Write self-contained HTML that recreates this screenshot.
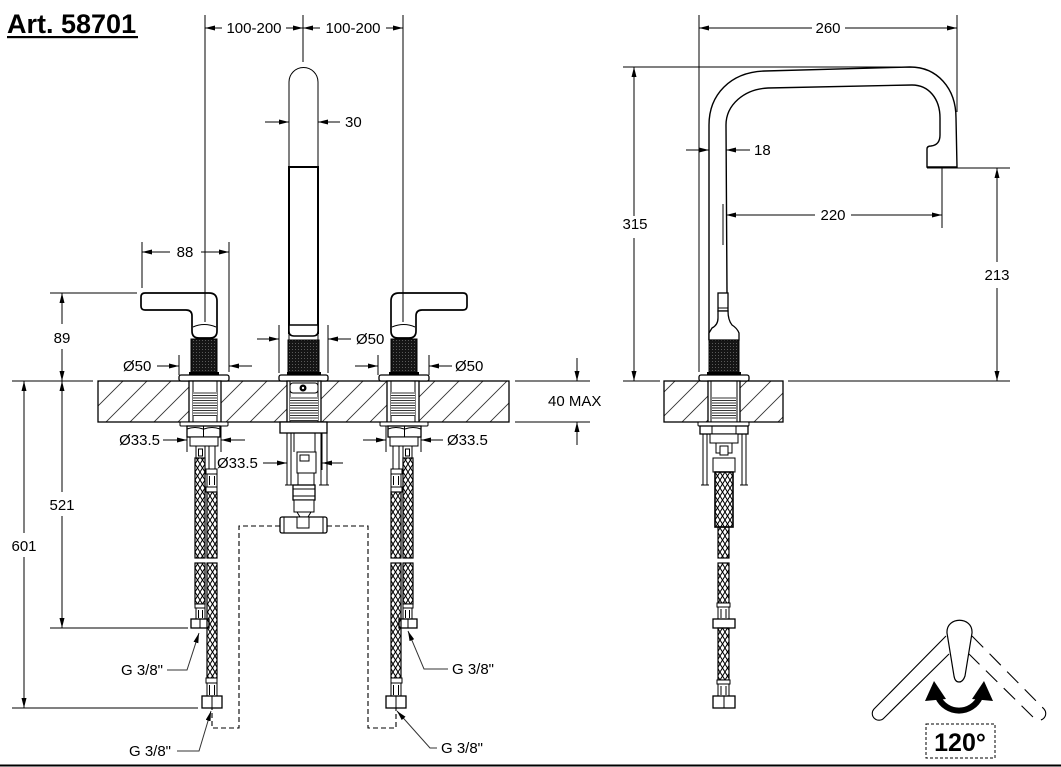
<!DOCTYPE html>
<html><head><meta charset="utf-8"><style>
html,body{margin:0;padding:0;background:#fff;}
svg{display:block;}
text{font-family:"Liberation Sans",Arial,sans-serif;font-size:15px;fill:#000;}
text.big{font-size:27px;font-weight:bold;}
text.deg{font-size:25px;font-weight:bold;}
.d{stroke:#000;stroke-width:1;fill:none;}
.o{stroke:#000;stroke-width:1.3;fill:#fff;}
.t{stroke:#000;stroke-width:1;fill:#fff;}
.l{stroke:#333;stroke-width:1;fill:none;}
</style></head><body>
<svg width="1061" height="767" viewBox="0 0 1061 767" xmlns="http://www.w3.org/2000/svg">
<defs>
<marker id="a" markerWidth="10" markerHeight="6" refX="10" refY="2.5" orient="auto" markerUnits="userSpaceOnUse"><path d="M0,0 L10,2.5 L0,5z" fill="#000"/></marker>
<pattern id="hatch" patternUnits="userSpaceOnUse" width="24" height="24"><path d="M0,24 L24,0 M-6,6 L6,-6 M18,30 L30,18" stroke="#333" stroke-width="0.9"/></pattern>
<pattern id="braid" patternUnits="userSpaceOnUse" width="5" height="8"><path d="M0,0 L5,8 M5,0 L0,8" stroke="#000" stroke-width="1"/></pattern>
<pattern id="knurl" patternUnits="userSpaceOnUse" width="3" height="3"><rect width="3" height="3" fill="#151515"/><rect x="1" y="1" width="1" height="1" fill="#5a5a5a"/></pattern>
<pattern id="thr" patternUnits="userSpaceOnUse" width="4" height="2.5"><rect width="4" height="2.5" fill="#fff"/><line x1="0" y1="0.5" x2="4" y2="0.5" stroke="#000" stroke-width="0.8"/></pattern>

<g id="hL">
  <path d="M141,297 Q141,293 145,293 L209,293 Q217,293 217,301 L217,331 Q217,338 210,338 L199,338 Q192,338 192,331 L192,316 Q192,310 186,310 L145,310 Q141,310 141,306 Z" fill="#fff" stroke="#000" stroke-width="1.7"/>
  <path d="M193,327 Q204,322 216,327" fill="none" stroke="#000" stroke-width="1"/>
  <rect x="191" y="339" width="26" height="34" fill="url(#knurl)" stroke="#000" stroke-width="1"/>
  <rect x="189" y="372" width="30" height="3" fill="#000"/>
  <rect x="179" y="375" width="50" height="6" rx="2" class="o"/>
  <rect x="189" y="381" width="32" height="41" class="o"/>
  <line x1="193" y1="381" x2="193" y2="422" class="d"/>
  <line x1="217" y1="381" x2="217" y2="422" class="d"/>
  <rect x="193" y="392" width="24" height="24" fill="url(#thr)"/>
  <rect x="180" y="422" width="48" height="4" rx="1" class="t"/>
  <rect x="187" y="426" width="33" height="11" class="o"/>
  <line x1="203.5" y1="426" x2="203.5" y2="437" class="d"/>
  <path d="M187,429 Q195,426 203,429 M204,429 Q212,426 220,429" class="d"/>
  <rect x="190" y="437" width="28" height="9" class="t"/>
  <!-- hose A short -->
  <rect x="196" y="446" width="9" height="12" class="t"/>
  <rect x="198.5" y="449" width="4" height="7" class="t"/>
  <rect x="195" y="458" width="10" height="100" fill="url(#braid)" stroke="#000" stroke-width="1.2"/>
  <rect x="195" y="563" width="10" height="41" fill="url(#braid)" stroke="#000" stroke-width="1.2"/>
  <rect x="195" y="604" width="10" height="4" class="t"/>
  <rect x="196" y="608" width="9" height="11" class="t"/>
  <path d="M198.5,610 V618 M202.5,610 V618" class="d"/>
  <rect x="191" y="619" width="18" height="9" class="o"/>
  <line x1="200" y1="619" x2="200" y2="628" class="d"/>
  <!-- hose B long -->
  <path d="M209,446 V469 M215,446 V469" class="d"/>
  <rect x="206" y="469" width="11" height="5" class="t"/>
  <rect x="207" y="474" width="10" height="13" class="t"/>
  <path d="M209.5,476 V485 M214.5,476 V485" class="d"/>
  <rect x="206" y="487" width="11" height="5" class="t"/>
  <rect x="207" y="492" width="10" height="66" fill="url(#braid)" stroke="#000" stroke-width="1.2"/>
  <rect x="207" y="563" width="10" height="115" fill="url(#braid)" stroke="#000" stroke-width="1.2"/>
  <rect x="206" y="678" width="11" height="5" class="t"/>
  <rect x="207" y="683" width="10" height="13" class="t"/>
  <path d="M209.5,685 V695 M214.5,685 V695" class="d"/>
  <rect x="202" y="696" width="20" height="12" class="o"/>
  <line x1="212" y1="696" x2="212" y2="708" class="d"/>
  <line x1="205" y1="15" x2="205" y2="322" class="d"/>
</g>
</defs>

<!-- Title -->
<text x="7" y="33" class="big">Art. 58701</text>
<rect x="7" y="36" width="131" height="2.2" fill="#000"/>

<!-- Counter left view -->
<rect x="98" y="381" width="411" height="41" fill="url(#hatch)" stroke="#000" stroke-width="1.3"/>
<!-- Counter right view -->
<rect x="664" y="381" width="119" height="41" fill="url(#hatch)" stroke="#000" stroke-width="1.3"/>

<!-- Top dimensions -->
<line x1="303" y1="15" x2="303" y2="62" class="d"/>
<line x1="403" y1="15" x2="403" y2="40" class="d"/>
<line x1="222" y1="28" x2="205" y2="28" class="d" marker-end="url(#a)"/>
<line x1="286" y1="28" x2="303" y2="28" class="d" marker-end="url(#a)"/>
<line x1="320" y1="28" x2="303" y2="28" class="d" marker-end="url(#a)"/>
<line x1="386" y1="28" x2="403" y2="28" class="d" marker-end="url(#a)"/>
<text x="254" y="33" text-anchor="middle">100-200</text>
<text x="353" y="33" text-anchor="middle">100-200</text>

<!-- Handles -->
<use href="#hL"/>
<use href="#hL" transform="matrix(-1,0,0,1,608,0)"/>

<!-- Spout front -->
<path d="M289,167 L289,82 A14.5,14.5 0 0 1 318,82 L318,167" fill="#fff" stroke="#000" stroke-width="1"/>
<rect x="289" y="167" width="29" height="166" fill="#fff" stroke="#000" stroke-width="2"/>
<path d="M289,325 L318,325 L318,331 Q318,336 313,336 L294,336 Q289,336 289,331 Z" fill="#fff" stroke="#000" stroke-width="1.5"/>
<path d="M289,333 V340 M318,333 V340" class="d"/>
<rect x="288" y="340" width="31" height="33" fill="url(#knurl)" stroke="#000" stroke-width="1"/>
<rect x="287" y="372" width="34" height="3" fill="#000"/>
<rect x="279" y="375" width="49" height="6" rx="2" class="o"/>
<rect x="287" y="381" width="34" height="41" class="o"/>
<path d="M290,381 V422 M318,381 V422" class="d"/>
<rect x="290" y="383" width="28" height="10" rx="3" class="t"/>
<circle cx="303" cy="388" r="3.5" fill="#000"/>
<circle cx="303" cy="388" r="1.2" fill="#fff"/>
<rect x="290" y="397" width="28" height="24" fill="url(#thr)"/>
<rect x="280" y="422" width="47" height="11" class="o"/>
<path d="M287,433 V485 M291,433 V485 M321,433 V485 M327,433 V485 M285,485 H293 M319,485 H329" class="d"/>
<path d="M294,433 V452 M315,433 V452" class="d"/>
<rect x="297" y="452" width="19" height="21" class="t"/>
<rect x="300" y="455" width="9" height="6" class="t"/>
<rect x="298" y="473" width="16" height="12" class="t"/>
<rect x="293" y="485" width="22" height="15" class="o"/>
<path d="M293,489 H315 M293,496 H315" class="d"/>
<rect x="294" y="500" width="20" height="12" class="t"/>
<path d="M297,512 L300,517 M311,512 L308,517" class="d"/>
<rect x="280" y="517" width="47" height="16" rx="2" class="o"/>
<path d="M284,517 V533 M323,517 V533" class="d"/>
<rect x="297" y="517" width="12" height="11" class="t"/>

<!-- dashed connections -->
<path d="M280,526 H239 V728 H212 V708" fill="none" stroke="#000" stroke-width="1.1" stroke-dasharray="5,3"/>
<path d="M327,526 H368 V728 H396 V708" fill="none" stroke="#000" stroke-width="1.1" stroke-dasharray="5,3"/>

<!-- 30 -->
<line x1="265" y1="122" x2="289" y2="122" class="d" marker-end="url(#a)"/>
<line x1="340" y1="122" x2="318" y2="122" class="d" marker-end="url(#a)"/>
<text x="345" y="127">30</text>

<!-- 88 -->
<line x1="142" y1="242" x2="142" y2="288" class="d"/>
<line x1="229" y1="242" x2="229" y2="372" class="d"/>
<line x1="170" y1="252" x2="142" y2="252" class="d" marker-end="url(#a)"/>
<line x1="201" y1="252" x2="229" y2="252" class="d" marker-end="url(#a)"/>
<text x="185" y="257" text-anchor="middle">88</text>

<!-- 89 / 521 / 601 -->
<line x1="50" y1="293" x2="137" y2="293" class="d"/>
<line x1="12" y1="381" x2="93" y2="381" class="d"/>
<line x1="62" y1="324" x2="62" y2="293" class="d" marker-end="url(#a)"/>
<line x1="62" y1="349" x2="62" y2="381" class="d" marker-end="url(#a)"/>
<text x="62" y="343" text-anchor="middle">89</text>
<line x1="62" y1="492" x2="62" y2="381" class="d" marker-end="url(#a)"/>
<line x1="62" y1="516" x2="62" y2="628" class="d" marker-end="url(#a)"/>
<text x="62" y="510" text-anchor="middle">521</text>
<line x1="50" y1="628" x2="188" y2="628" class="d"/>
<line x1="24" y1="533" x2="24" y2="381" class="d" marker-end="url(#a)"/>
<line x1="24" y1="557" x2="24" y2="708" class="d" marker-end="url(#a)"/>
<text x="24" y="551" text-anchor="middle">601</text>
<line x1="12" y1="708" x2="198" y2="708" class="d"/>

<!-- Ø50 labels -->
<line x1="179" y1="355" x2="179" y2="375" class="d"/>
<line x1="157" y1="366" x2="179" y2="366" class="d" marker-end="url(#a)"/>
<line x1="252" y1="366" x2="229" y2="366" class="d" marker-end="url(#a)"/>
<text x="123" y="371">Ø50</text>
<line x1="279" y1="325" x2="279" y2="373" class="d"/>
<line x1="328" y1="325" x2="328" y2="373" class="d"/>
<line x1="257" y1="339" x2="279" y2="339" class="d" marker-end="url(#a)"/>
<line x1="351" y1="339" x2="328" y2="339" class="d" marker-end="url(#a)"/>
<text x="356" y="344">Ø50</text>
<line x1="378" y1="355" x2="378" y2="375" class="d"/>
<line x1="429" y1="355" x2="429" y2="375" class="d"/>
<line x1="355" y1="366" x2="378" y2="366" class="d" marker-end="url(#a)"/>
<line x1="452" y1="366" x2="429" y2="366" class="d" marker-end="url(#a)"/>
<text x="455" y="371">Ø50</text>

<!-- Ø33.5 labels -->
<line x1="187" y1="426" x2="187" y2="452" class="d"/>
<line x1="221" y1="426" x2="221" y2="452" class="d"/>
<line x1="163" y1="440" x2="187" y2="440" class="d" marker-end="url(#a)"/>
<line x1="245" y1="440" x2="221" y2="440" class="d" marker-end="url(#a)"/>
<text x="160" y="445" text-anchor="end">Ø33.5</text>
<line x1="263" y1="463" x2="287" y2="463" class="d" marker-end="url(#a)"/>
<line x1="343" y1="463" x2="322" y2="463" class="d" marker-end="url(#a)"/>
<line x1="322" y1="433" x2="322" y2="470" class="d"/>
<text x="217" y="468">Ø33.5</text>
<line x1="386" y1="426" x2="386" y2="452" class="d"/>
<line x1="421" y1="426" x2="421" y2="452" class="d"/>
<line x1="363" y1="440" x2="386" y2="440" class="d" marker-end="url(#a)"/>
<line x1="443" y1="440" x2="421" y2="440" class="d" marker-end="url(#a)"/>
<text x="447" y="445">Ø33.5</text>

<!-- 40 MAX -->
<line x1="515" y1="381" x2="590" y2="381" class="d"/>
<line x1="515" y1="422" x2="590" y2="422" class="d"/>
<line x1="577" y1="358" x2="577" y2="381" class="d" marker-end="url(#a)"/>
<line x1="577" y1="445" x2="577" y2="422" class="d" marker-end="url(#a)"/>
<text x="548" y="406">40 MAX</text>

<!-- G 3/8 labels -->
<polyline points="167,670 187,670 199,633" class="l" marker-end="url(#a)"/>
<text x="163" y="675" text-anchor="end">G 3/8"</text>
<polyline points="177,751 199,751 211,711" class="l" marker-end="url(#a)"/>
<text x="171" y="756" text-anchor="end">G 3/8"</text>
<polyline points="448,669 424,669 408,631" class="l" marker-end="url(#a)"/>
<text x="452" y="674">G 3/8"</text>
<polyline points="437,748 430,748 397,711" class="l" marker-end="url(#a)"/>
<text x="441" y="753">G 3/8"</text>

<!-- ===== Right side view ===== -->
<line x1="699" y1="15" x2="699" y2="372" class="d"/>
<line x1="957" y1="15" x2="957" y2="112" class="d"/>
<line x1="812" y1="28" x2="699" y2="28" class="d" marker-end="url(#a)"/>
<line x1="845" y1="28" x2="957" y2="28" class="d" marker-end="url(#a)"/>
<text x="828" y="33" text-anchor="middle">260</text>

<path d="M709,340 L709,125 C709,95 730,72 765,71 L910,67 C937,67 956,88 956,118 L957,167 L927,167 L927,149 Q927,146 931,146 Q940,145 940,135 L940,118 C940,99 929,85 912,85 L768,88 C744,89 726,105 726,125 L727,293" fill="none" stroke="#000" stroke-width="1.4"/>

<line x1="623" y1="67" x2="910" y2="67" class="d"/>
<line x1="634" y1="216" x2="634" y2="67" class="d" marker-end="url(#a)"/>
<line x1="634" y1="238" x2="634" y2="381" class="d" marker-end="url(#a)"/>
<text x="635" y="229" text-anchor="middle">315</text>

<line x1="686" y1="150" x2="709" y2="150" class="d" marker-end="url(#a)"/>
<line x1="750" y1="150" x2="726" y2="150" class="d" marker-end="url(#a)"/>
<text x="754" y="155">18</text>

<line x1="723" y1="204" x2="723" y2="245" class="d"/>
<line x1="942" y1="168" x2="942" y2="228" class="d"/>
<line x1="815" y1="215" x2="726" y2="215" class="d" marker-end="url(#a)"/>
<line x1="851" y1="215" x2="942" y2="215" class="d" marker-end="url(#a)"/>
<text x="833" y="220" text-anchor="middle">220</text>

<line x1="927" y1="168" x2="1010" y2="168" class="d"/>
<line x1="997" y1="262" x2="997" y2="168" class="d" marker-end="url(#a)"/>
<line x1="997" y1="288" x2="997" y2="381" class="d" marker-end="url(#a)"/>
<text x="997" y="280" text-anchor="middle">213</text>

<line x1="623" y1="381" x2="660" y2="381" class="d"/>
<line x1="788" y1="381" x2="1010" y2="381" class="d"/>

<!-- side handle -->
<rect x="718" y="293" width="10" height="18" class="o"/>
<line x1="718" y1="308" x2="728" y2="308" class="d"/>
<path d="M718,311 L718,318 Q718,325 712,328 L709,333 L709,340 L739,340 L739,333 Q737,328 732,325 Q728,320 728,311 Z" class="o"/>
<rect x="709" y="340" width="30" height="33" fill="url(#knurl)" stroke="#000" stroke-width="1"/>
<rect x="707" y="372" width="34" height="3" fill="#000"/>
<rect x="699" y="375" width="50" height="6" rx="2" class="o"/>
<rect x="708" y="381" width="32" height="41" class="o"/>
<path d="M711,381 V422 M737,381 V422" class="d"/>
<rect x="712" y="396" width="24" height="24" fill="url(#thr)"/>
<rect x="698" y="422" width="51" height="4" rx="1" class="t"/>
<rect x="700" y="426" width="48" height="8" class="o"/>
<path d="M712,426 V434 M736,426 V434" class="d"/>
<rect x="710" y="434" width="28" height="9" class="t"/>
<path d="M703,434 V485 M707,434 V485 M742,434 V485 M746,434 V485 M701,485 H709 M740,485 H748" class="d"/>
<rect x="716" y="443" width="16" height="10" class="t"/>
<rect x="720" y="446" width="8" height="9" class="t"/>
<rect x="713" y="458" width="22" height="14" class="t"/>
<rect x="715" y="472" width="18" height="55" fill="url(#braid)" stroke="#000" stroke-width="1.6"/>
<rect x="718" y="527" width="11" height="31" fill="url(#braid)" stroke="#000" stroke-width="1.2"/>
<rect x="718" y="563" width="11" height="40" fill="url(#braid)" stroke="#000" stroke-width="1.2"/>
<rect x="717" y="603" width="13" height="4" class="t"/>
<rect x="718" y="607" width="11" height="12" class="t"/>
<path d="M721,609 V618 M726,609 V618" class="d"/>
<rect x="713" y="619" width="22" height="9" class="o"/>
<rect x="718" y="628" width="11" height="52" fill="url(#braid)" stroke="#000" stroke-width="1.2"/>
<rect x="717" y="680" width="13" height="4" class="t"/>
<rect x="718" y="684" width="11" height="12" class="t"/>
<path d="M721,686 V695 M726,686 V695" class="d"/>
<rect x="713" y="696" width="22" height="12" class="o"/>
<line x1="724" y1="696" x2="724" y2="708" class="d"/>

<!-- 120 degree icon -->
<path d="M946,636 L874,709 A6.5,6.5 0 0 0 884,718 L949,654" fill="none" stroke="#000" stroke-width="1.1"/>
<path d="M972,636 L1044,709 A6.5,6.5 0 0 1 1034,718 L969,654" fill="none" stroke="#000" stroke-width="1.1" stroke-dasharray="16,9"/>
<path d="M947,633 C946,616 973,616 972,633 L965,676 Q963,682 959,682 Q955,682 954,676 Z" fill="#fff" stroke="#000" stroke-width="1.2"/>
<path d="M938,697 A23,23 0 0 0 980,697" fill="none" stroke="#000" stroke-width="6"/>
<polygon points="934,681 925,701 946,699" fill="#000"/>
<polygon points="984,681 972,699 993,701" fill="#000"/>
<rect x="926" y="724" width="69" height="34" fill="none" stroke="#000" stroke-width="1" stroke-dasharray="3,2"/>
<text x="960" y="751" text-anchor="middle" class="deg">120°</text>

<!-- bottom border -->
<line x1="0" y1="765.5" x2="1061" y2="765.5" stroke="#000" stroke-width="2"/>
</svg>
</body></html>
